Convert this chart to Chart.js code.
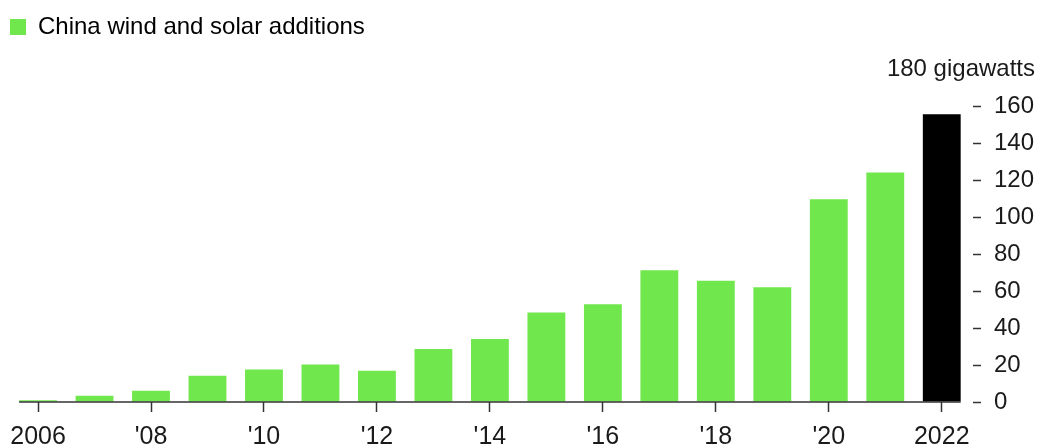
<!DOCTYPE html>
<html>
<head>
<meta charset="utf-8">
<script src="https://cdn.jsdelivr.net/npm/chart.js@4"></script>
<style>
  body { margin: 0; background: #fff; }
  #wrap { width: 1038px; height: 447px; position: relative; }
</style>
</head>
<body>
<div id="wrap"><canvas id="grafico"></canvas></div>
<script>
// Datos: adiciones anuales de eólica + solar en China (GW)
const years = ["2006", "2007", "2008", "2009", "2010", "2011", "2012", "2013", "2014",
  "2015", "2016", "2017", "2018", "2019", "2020", "2021", "2022"];
const additions = [1, 3.4, 6.1, 14.2, 17.6, 20.3, 16.9, 28.6, 34, 48.4, 52.8, 71.2, 65.6, 62, 109.6, 124, 155.6];
const xTickLabels = ["2006", "", "'08", "", "'10", "", "'12", "", "'14", "", "'16", "", "'18", "", "'20", "", "2022"];
const yTicks = [0, 20, 40, 60, 80, 100, 120, 140, 160, 180];

const VERDE = "#70e74c";
const TEXTO = "#1a1a1a";
const LINEA = "#333333";

Chart.defaults.font.family = "'Liberation Sans', Arial, sans-serif";
Chart.defaults.color = TEXTO;

// baseline only under the bars, plus the unit label at the top tick
const extras = {
  id: "extras",
  beforeInit(chart) {
    const fitOriginal = chart.legend.fit;
    chart.legend.fit = function () {
      fitOriginal.call(this);
      this.height += 20;
    };
  },
  afterDatasetsDraw(chart) {
    const { ctx, scales } = chart;
    const barras = chart.getDatasetMeta(0).data;
    const primero = barras[0], ultimo = barras[barras.length - 1];
    const y0 = scales.y.getPixelForValue(0);
    ctx.save();
    ctx.strokeStyle = LINEA;
    ctx.lineWidth = 1.5;
    ctx.beginPath();
    ctx.moveTo(primero.x - primero.width / 2, y0);
    ctx.lineTo(ultimo.x + ultimo.width / 2, y0);
    ctx.stroke();

    ctx.fillStyle = TEXTO;
    ctx.font = "24px 'Liberation Sans', Arial, sans-serif";
    ctx.textAlign = "right";
    ctx.textBaseline = "middle";
    ctx.fillText(yTicks[yTicks.length - 1] + " gigawatts", chart.width - 3, scales.y.getPixelForValue(180));
    ctx.restore();
  }
};

new Chart(document.getElementById("grafico"), {
  type: "bar",
  data: {
    labels: years,
    datasets: [{
      label: "China wind and solar additions",
      data: additions,
      backgroundColor: ctx => ctx.dataIndex === years.length - 1 ? "#000000" : VERDE,
      categoryPercentage: 1,
      barPercentage: 0.67
    }]
  },
  options: {
    responsive: true,
    maintainAspectRatio: false,
    animation: false,
    layout: { padding: { left: 8, top: 13, right: 0, bottom: 0 } },
    plugins: {
      tooltip: { enabled: false },
      legend: {
        position: "top",
        align: "start",
        labels: {
          boxWidth: 16,
          boxHeight: 16,
          padding: 2,
          font: { size: 24 },
          color: TEXTO,
          generateLabels: () => [{
            text: "China wind and solar additions",
            fillStyle: VERDE,
            strokeStyle: VERDE,
            lineWidth: 0,
            hidden: false,
            datasetIndex: 0
          }]
        }
      }
    },
    scales: {
      x: {
        offset: true,
        border: { display: false },
        grid: {
          offset: false,
          drawOnChartArea: false,
          drawTicks: true,
          tickLength: 10,
          tickWidth: 1.5,
          tickColor: ctx => xTickLabels[ctx.index] ? LINEA : "rgba(0,0,0,0)"
        },
        ticks: {
          autoSkip: false,
          maxRotation: 0,
          padding: 10,
          font: { size: 25 },
          color: TEXTO,
          callback: (v, i) => xTickLabels[i]
        },
        afterFit: scale => { scale.height = 45; }
      },
      y: {
        position: "right",
        min: 0,
        max: 180,
        border: { display: false },
        grid: {
          drawOnChartArea: false,
          drawTicks: true,
          tickLength: 11,
          tickWidth: 1.5,
          tickBorderDash: [8, 3],
          tickBorderDashOffset: 8,
          tickColor: ctx => ctx.tick && ctx.tick.value === 180 ? "rgba(0,0,0,0)" : LINEA
        },
        afterBuildTicks: scale => { scale.ticks = yTicks.map(v => ({ value: v })); },
        ticks: {
          padding: 13,
          font: { size: 24 },
          color: TEXTO,
          callback: v => v === 180 ? "" : v
        },
        afterFit: scale => { scale.width = 68; }
      }
    }
  },
  plugins: [extras]
});
</script>
</body>
</html>
